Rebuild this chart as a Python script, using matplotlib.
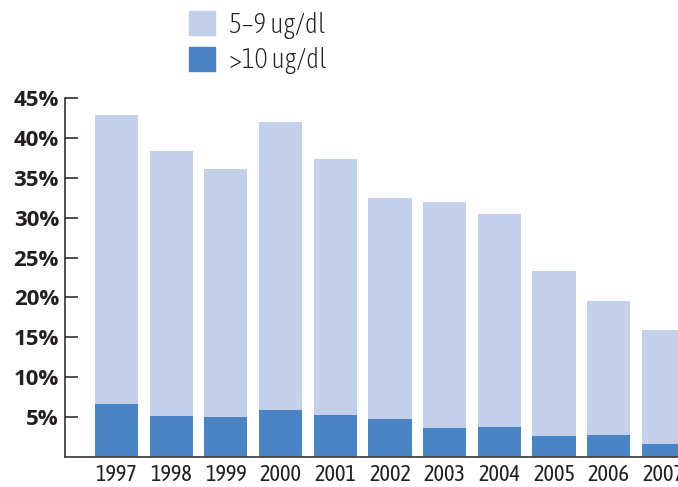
import matplotlib
matplotlib.use("Agg")
import matplotlib.pyplot as plt
from matplotlib.patches import Patch

years = ["1997", "1998", "1999", "2000", "2001", "2002", "2003", "2004", "2005", "2006", "2007"]
# percent of children with blood lead >10 ug/dl (bottom) and total >=5 ug/dl (bar top)
over_10 = [6.6, 5.1, 5.0, 5.9, 5.2, 4.7, 3.6, 3.7, 2.6, 2.7, 1.6]
total = [42.9, 38.4, 36.1, 42.0, 37.4, 32.5, 32.0, 30.5, 23.3, 19.5, 15.9]
from_5_to_9 = [t - o for t, o in zip(total, over_10)]

light = "#c4cfea"
dark = "#4a84c4"
narrow = ["Asap Condensed", "Archivo Narrow", "DejaVu Sans"]

fig = plt.figure(figsize=(6.78, 4.87), dpi=100)
W, H = 678, 487
ax = fig.add_axes([64.5 / W, 1 - 456.7 / H, 1 - 64.5 / W, (456.7 - 98.3) / H])

x = range(len(years))
ax.bar(x, over_10, width=0.79, color=dark, zorder=2)
ax.bar(x, from_5_to_9, bottom=over_10, width=0.79, color=light, zorder=2)

ax.set_ylim(0, 45)
ax.set_xlim(-0.95, 10.265)
ax.set_yticks(range(5, 50, 5))
ax.set_yticklabels([f"{v}%" for v in range(5, 50, 5)], fontsize=16,
                   fontweight="bold", family=["Open Sans", "DejaVu Sans"], color="#231f20")
ax.set_xticks(list(x))
ax.set_xticklabels(years, fontsize=16, family=narrow, color="#231f20")
ax.tick_params(axis="y", direction="in", length=9.5, width=1.1, color="#231f20", pad=4)
ax.tick_params(axis="x", length=0, pad=5)

for s in ["top", "right"]:
    ax.spines[s].set_visible(False)
ax.spines["left"].set_color("#231f20")
ax.spines["left"].set_linewidth(1.1)
ax.spines["bottom"].set_color("#444444")
ax.spines["bottom"].set_linewidth(1.3)
ax.spines["bottom"].set_zorder(3)

handles = [Patch(color=light), Patch(color=dark)]
fig.legend(handles, ["5\u20139 ug/dl", ">10 ug/dl"], loc="upper left",
           bbox_to_anchor=(189 / W, 1 - 11 / H), frameon=False, borderpad=0,
           borderaxespad=0, handlelength=0.95, handleheight=0.95,
           labelspacing=0.3, handletextpad=0.5,
           prop={"family": narrow, "size": 20, "weight": "light"},
           labelcolor="#231f20")

fig.savefig("out.png", dpi=100)
